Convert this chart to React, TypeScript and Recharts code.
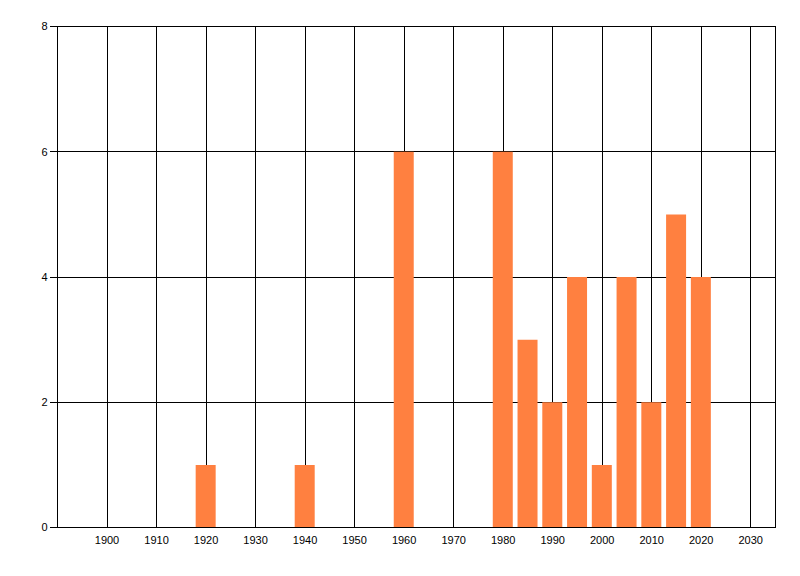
import { BarChart, Bar, XAxis, YAxis, CartesianGrid } from 'recharts'

// counts per year
const years = [1920, 1940, 1960, 1980, 1985, 1990, 1995, 2000, 2005, 2010, 2015, 2020]
const counts = [1, 1, 6, 6, 3, 2, 4, 1, 4, 2, 5, 4]

const xTicks = [1900, 1910, 1920, 1930, 1940, 1950, 1960, 1970, 1980, 1990, 2000, 2010, 2020, 2030]
const yTicks = [0, 2, 4, 6, 8]

const data = years.map((year, i) => ({ year, count: counts[i] }))

const tickFont = {
  fontSize: 11,
  fill: '#000',
  fontFamily: "'Liberation Sans Narrow', 'Liberation Sans', Arial, sans-serif",
}

const crisp = { stroke: '#000', shapeRendering: 'crispEdges' as const }

const App = () => (
  <div style={{ position: 'absolute', left: 0, top: 0, width: 800, height: 576, background: '#fff' }}>
    <BarChart
      width={800}
      height={576}
      data={data}
      margin={{ top: 26.5, right: 24.5, bottom: 0, left: 0 }}
    >
      <CartesianGrid stroke="#000" strokeWidth={1} shapeRendering="crispEdges" />
      <XAxis
        type="number"
        dataKey="year"
        domain={[1890, 2035]}
        ticks={xTicks}
        allowDataOverflow
        interval={0}
        tick={tickFont}
        tickLine={false}
        tickSize={6}
        tickMargin={2.5}
        axisLine={crisp}
        height={48.5}
      />
      <YAxis
        type="number"
        domain={[0, 8]}
        ticks={yTicks}
        interval={0}
        width={57.5}
        tick={tickFont}
        tickSize={8}
        tickMargin={2}
        tickLine={crisp}
        axisLine={crisp}
      />
      <Bar dataKey="count" fill="#FF8040" barSize={20} isAnimationActive={false} />
    </BarChart>
  </div>
)

export default App
